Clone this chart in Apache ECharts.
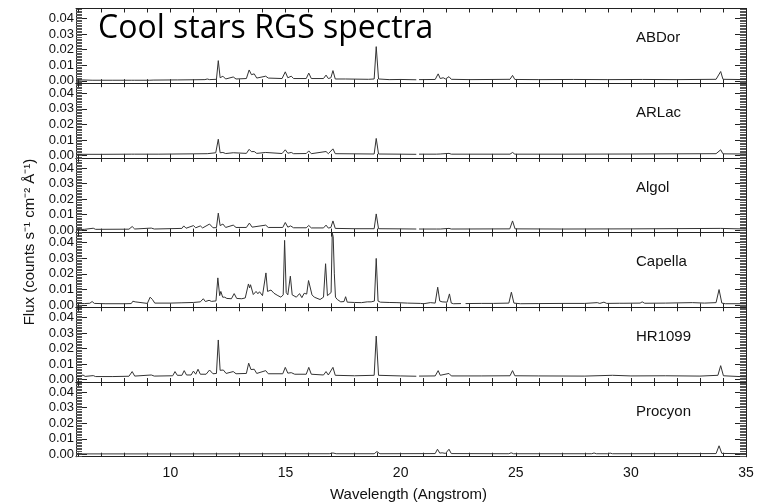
<!DOCTYPE html>
<html>
<head>
<meta charset="utf-8">
<script src="https://cdn.jsdelivr.net/npm/echarts@6/dist/echarts.min.js"></script>
<style>
  html, body { margin: 0; padding: 0; background: #fff; }
  #chart { width: 757px; height: 503px; }
</style>
</head>
<body>
<div id="chart"></div>
<script>
  "use strict";

  var stars = ["ABDor", "ARLac", "Algol", "Capella", "HR1099", "Procyon"];
  var xLabels = [10, 15, 20, 25, 30, 35];
  var xTicks = [6, 7, 8, 9, 10, 11, 12, 13, 14, 15, 16, 17, 18, 19, 20,
    21, 22, 23, 24, 25, 26, 27, 28, 29, 30, 31, 32, 33, 34, 35];
  var yLabels = [0, 0.01, 0.02, 0.03, 0.04];

  // [wavelength (A), flux]; null marks a detector gap
  var abdor = [[5.9,0.0003],[6.2,0.0006],[6.6,0.0004],[7.5,0.0004],[8.3,0.0004],[8.37,0.0009],[8.45,0.0004],
    [9.1,0.0004],[9.17,0.0008],[9.25,0.0005],[10.2,0.0006],[10.25,0.001],[10.32,0.0006],[11.0,0.0007],
    [11.5,0.0008],[11.6,0.0012],[11.7,0.0008],[12.0,0.001],[12.08,0.013],[12.16,0.002],[12.28,0.003],
    [12.4,0.0012],[12.73,0.0025],[12.85,0.0012],[13.3,0.0015],[13.42,0.007],[13.52,0.004],[13.64,0.0045],
    [13.75,0.0018],[14.14,0.003],[14.25,0.0018],[14.85,0.0015],[14.99,0.0058],[15.1,0.002],[15.25,0.003],
    [15.35,0.0015],[15.9,0.0015],[16.01,0.005],[16.12,0.0015],[16.65,0.0015],[16.76,0.0037],[16.86,0.0015],
    [16.97,0.002],[17.06,0.0066],[17.16,0.0012],[17.6,0.0012],[18.6,0.001],[18.85,0.0012],[18.94,0.022],
    [19.04,0.0012],[19.5,0.0008],[20.0,0.0009],[20.68,0.0007],[20.74,null],[20.8,0.0008],[21.5,0.0009],
    [21.63,0.0045],[21.72,0.0015],[21.85,0.002],[21.95,0.0012],[22.1,0.0027],[22.2,0.001],[23.0,0.0008],
    [24.0,0.0009],[24.75,0.001],[24.86,0.0035],[24.96,0.0009],[26,0.0008],[27.5,0.0009],[29,0.0008],
    [30.5,0.0009],[32,0.0008],[33.7,0.001],[33.9,0.006],[34.0,0.001],[35,0.0008]];

  var arlac = [[5.9,0.0008],[7,0.0008],[8.3,0.0009],[8.37,0.0014],[8.45,0.0009],[9.5,0.0009],[10.2,0.001],
    [11,0.0011],[11.6,0.0012],[11.97,0.0018],[12.0,0.0013],[12.08,0.0105],[12.16,0.0018],[12.28,0.002],
    [12.4,0.0013],[12.73,0.0018],[13.3,0.0014],[13.42,0.004],[13.52,0.0025],[13.64,0.0026],[13.75,0.0014],
    [14.14,0.002],[14.85,0.0013],[14.99,0.0037],[15.1,0.0015],[15.25,0.002],[15.35,0.0012],[15.9,0.0013],
    [16.01,0.003],[16.12,0.0012],[16.76,0.0026],[16.86,0.0012],[17.06,0.0043],[17.16,0.0012],[18.85,0.001],
    [18.94,0.011],[19.04,0.001],[20.0,0.0009],[20.68,0.0008],[20.74,null],[20.8,0.0009],[21.55,0.0009],
    [21.63,0.0017],[21.72,0.001],[22.1,0.0014],[22.2,0.0009],[24.75,0.0009],[24.86,0.002],[24.96,0.0009],
    [27,0.0009],[30,0.001],[33.7,0.0012],[33.9,0.0037],[34.0,0.0011],[35,0.001]];

  var algol = [[5.9,0.0005],[6.1,0.0005],[6.18,0.0012],[6.26,0.0006],[6.65,0.0013],[6.75,0.0006],[8.2,0.0007],
    [8.34,0.0024],[8.45,0.0008],[9.17,0.0014],[9.3,0.0008],[10.2,0.0011],[10.5,0.0012],[10.58,0.0028],
    [10.68,0.0013],[11.0,0.003],[11.1,0.0016],[11.3,0.0028],[11.4,0.0015],[11.7,0.004],[11.85,0.0016],
    [12.0,0.0017],[12.08,0.011],[12.16,0.003],[12.28,0.004],[12.4,0.0018],[12.73,0.0033],[12.85,0.0018],
    [13.3,0.0018],[13.43,0.0046],[13.55,0.002],[14.14,0.0033],[14.25,0.0018],[14.88,0.0018],[14.99,0.005],
    [15.1,0.002],[15.22,0.0028],[15.35,0.0016],[15.9,0.0016],[16.01,0.0031],[16.12,0.0015],[16.65,0.0015],
    [16.76,0.0033],[16.86,0.0014],[16.97,0.0018],[17.06,0.006],[17.16,0.0012],[18.0,0.001],[18.85,0.001],
    [18.94,0.0105],[19.04,0.001],[20.0,0.0009],[20.68,0.0008],[20.74,null],[20.8,0.0008],[21.55,0.0008],
    [21.63,0.0015],[21.72,0.0008],[22.1,0.0012],[22.2,0.0008],[24.74,0.0009],[24.86,0.006],[24.97,0.0009],
    [27,0.0008],[30,0.0009],[33.9,0.0012],[35,0.0008]];

  var capella = [[5.9,0.0008],[6.1,0.0009],[6.18,0.0016],[6.26,0.0009],[6.5,0.0011],[6.6,0.0022],[6.7,0.001],
    [7.2,0.0008],[8.0,0.0008],[8.3,0.0009],[8.37,0.0024],[8.42,0.0014],[8.47,0.002],[8.55,0.0009],[9.0,0.001],
    [9.12,0.005],[9.22,0.0035],[9.32,0.0012],[10.0,0.0012],[10.5,0.0014],[11.0,0.0016],[11.3,0.002],
    [11.43,0.004],[11.52,0.0022],[11.68,0.003],[11.78,0.0023],[11.98,0.0026],[12.06,0.0174],[12.14,0.006],
    [12.19,0.0087],[12.27,0.005],[12.36,0.005],[12.45,0.0042],[12.65,0.004],[12.77,0.0073],[12.88,0.0042],
    [13.1,0.004],[13.25,0.0045],[13.39,0.0135],[13.44,0.011],[13.48,0.013],[13.6,0.0067],[13.66,0.0065],
    [13.72,0.0087],[13.8,0.0072],[13.87,0.0085],[14.0,0.006],[14.08,0.0065],[14.15,0.0206],[14.22,0.0087],
    [14.3,0.0085],[14.37,0.0096],[14.5,0.0075],[14.67,0.006],[14.8,0.005],[14.9,0.0065],[14.96,0.0415],
    [15.03,0.008],[15.1,0.0065],[15.21,0.0185],[15.29,0.0065],[15.36,0.006],[15.47,0.005],[15.61,0.0073],
    [15.71,0.0047],[15.81,0.0075],[15.92,0.007],[16.0,0.0157],[16.08,0.0155],[16.15,0.0065],[16.25,0.005],
    [16.5,0.0035],[16.65,0.005],[16.74,0.0265],[16.82,0.006],[16.9,0.005],[16.98,0.008],[17.03,0.0462],
    [17.07,0.044],[17.12,0.02],[17.17,0.005],[17.25,0.0035],[17.4,0.002],[17.54,0.0022],[17.61,0.0053],
    [17.68,0.0018],[18.0,0.0016],[18.3,0.0015],[18.55,0.002],[18.62,0.0027],[18.72,0.002],[18.86,0.0025],
    [18.94,0.0299],[19.02,0.0025],[19.12,0.0018],[19.5,0.0016],[19.84,0.0015],[20.3,0.0012],[20.86,0.001],
    [21.0,0.0008],[21.29,0.0015],[21.5,0.0012],[21.61,0.0114],[21.7,0.0025],[21.8,0.002],[21.87,0.0015],
    [22.02,0.0018],[22.12,0.0071],[22.2,0.0012],[22.3,0.0008],[22.62,0.0009],[22.72,null],[22.82,0.0009],
    [23.5,0.001],[24.04,0.001],[24.7,0.0012],[24.81,0.0082],[24.92,0.0012],[25.2,0.0008],[26,0.0009],
    [27.14,0.001],[28.0,0.001],[28.54,0.0015],[28.65,0.001],[28.83,0.0018],[28.95,0.001],[29.5,0.0011],
    [29.58,0.0018],[29.7,0.0011],[30.4,0.0012],[30.49,0.002],[30.6,0.0011],[31.5,0.0012],[32.67,0.0015],
    [33.2,0.0012],[33.7,0.0015],[33.83,0.0099],[33.95,0.0012],[34.1,0.0008],[35,0.0008]];

  var hr1099 = [[5.9,0.002],[6.1,0.002],[6.2,0.003],[6.3,0.0021],[6.65,0.0026],[6.75,0.002],[7.5,0.002],
    [8.2,0.0022],[8.34,0.0052],[8.45,0.0023],[9.17,0.003],[9.3,0.0023],[10.1,0.0025],[10.2,0.0052],
    [10.3,0.0028],[10.5,0.0028],[10.6,0.0058],[10.7,0.003],[10.9,0.003],[11.0,0.0055],[11.1,0.0035],
    [11.2,0.0067],[11.3,0.0035],[11.55,0.0035],[11.7,0.0062],[11.85,0.0038],[12.0,0.004],[12.08,0.0255],
    [12.16,0.006],[12.3,0.0062],[12.42,0.004],[12.73,0.0052],[12.85,0.0038],[13.3,0.004],[13.4,0.0106],
    [13.5,0.0065],[13.64,0.0067],[13.75,0.004],[14.14,0.0058],[14.25,0.0038],[14.88,0.0038],[14.99,0.0079],
    [15.1,0.0042],[15.25,0.0045],[15.4,0.0035],[15.9,0.0035],[16.01,0.0079],[16.12,0.0035],[16.65,0.003],
    [16.76,0.0052],[16.86,0.003],[17.06,0.0079],[17.16,0.0028],[18.0,0.0025],[18.85,0.0028],[18.94,0.028],
    [19.04,0.0028],[20.0,0.0024],[20.68,0.0022],[20.74,null],[20.8,0.0023],[21.5,0.0024],[21.63,0.0058],
    [21.72,0.0028],[22.1,0.004],[22.2,0.0024],[23.5,0.0024],[24.75,0.0025],[24.86,0.0058],[24.96,0.0025],
    [26,0.0024],[28,0.0023],[29.2,0.0028],[30,0.0024],[31.5,0.0025],[33.0,0.0023],[33.78,0.0028],
    [33.9,0.009],[34.02,0.0025],[35,0.0018]];

  var procyon = [[5.9,0.0003],[10,0.0003],[15,0.0004],[16.9,0.0004],[17.06,0.0009],[17.2,0.0004],
    [18.85,0.0004],[18.97,0.0018],[19.1,0.0004],[21.5,0.0005],[21.6,0.0033],[21.7,0.0008],[21.8,0.001],
    [21.95,0.0006],[22.1,0.0033],[22.2,0.0005],[24.7,0.0004],[24.8,0.001],[24.9,0.0004],[28.3,0.0004],
    [28.4,0.0009],[28.5,0.0004],[29.0,0.0004],[29.1,0.0008],[29.2,0.0004],[33.7,0.0005],[33.83,0.0055],
    [33.95,0.0006],[35,0.0004]];

  var spectra = [abdor, arlac, algol, capella, hr1099, procyon];

  var FONT = "Liberation Sans";
  var INK = "#222222";
  var PANEL_TOP = 8.5;
  var PANEL_H = 74.7;
  var Y_MIN = -0.0015;
  var Y_MAX = 0.0465;

  // dense minor tick positions every 0.001 (tick marks only, not data)
  var yMinor = [];
  for (var k = -1; k <= 46; k++) {
    yMinor.push(k / 1000);
  }

  function xAxisFor(i, position) {
    return {
      gridIndex: i,
      type: "value",
      min: 5.9,
      max: 35,
      position: position,
      axisLine: {show: true, onZero: false, lineStyle: {color: INK, width: 1}},
      axisTick: {show: true, inside: true, length: 4, customValues: xTicks, lineStyle: {color: INK}},
      axisLabel: {
        show: position === "bottom" && i === stars.length - 1,
        customValues: xLabels,
        fontFamily: FONT,
        fontSize: 14,
        color: "#111",
        margin: 9
      },
      splitLine: {show: false}
    };
  }

  function yAxisFor(i, position, major) {
    return {
      gridIndex: i,
      type: "value",
      min: Y_MIN,
      max: Y_MAX,
      position: position,
      axisLine: {show: true, onZero: false, lineStyle: {color: INK, width: 1}},
      axisTick: {
        show: true,
        inside: true,
        length: major ? 11 : 6,
        customValues: major ? yLabels : yMinor,
        lineStyle: {color: major ? INK : "#555", width: 1}
      },
      axisLabel: {
        show: major && position === "left",
        customValues: yLabels,
        formatter: function(v) { return v.toFixed(2); },
        fontFamily: FONT,
        fontSize: 13,
        color: "#111",
        margin: 2
      },
      splitLine: {show: false}
    };
  }

  var grids = [], xAxes = [], yAxes = [], series = [];
  var titles = [{
    text: "Cool stars RGS spectra",
    left: 93,
    top: 8,
    textStyle: {fontFamily: "Open Sans", fontSize: 32, fontWeight: "normal", color: "#000"}
  }];

  stars.forEach(function(name, i) {
    var top = PANEL_TOP + i * PANEL_H;
    grids.push({left: 76, right: 11, top: top, height: PANEL_H});

    xAxes.push(xAxisFor(i, "bottom"));
    xAxes.push(xAxisFor(i, "top"));

    yAxes.push(yAxisFor(i, "left", true));
    yAxes.push(yAxisFor(i, "left", false));
    yAxes.push(yAxisFor(i, "right", true));
    yAxes.push(yAxisFor(i, "right", false));

    series.push({
      name: name,
      type: "line",
      xAxisIndex: i * 2,
      yAxisIndex: i * 4,
      data: spectra[i],
      showSymbol: false,
      symbol: "none",
      connectNulls: false,
      clip: true,
      lineStyle: {color: "#333", width: 1},
      silent: true
    });

    titles.push({
      text: name,
      left: 631,
      top: top + 17,
      textStyle: {fontFamily: FONT, fontSize: 15, fontWeight: "normal", color: "#111"}
    });
  });

  var chart = echarts.init(document.getElementById("chart"), null, {renderer: "canvas"});

  chart.setOption({
    animation: false,
    backgroundColor: "#fff",
    title: titles,
    grid: grids,
    xAxis: xAxes,
    yAxis: yAxes,
    series: series,
    graphic: [
      {
        type: "text",
        left: 411 - 81,
        top: 487,
        style: {text: "Wavelength (Angstrom)", font: "15px 'Liberation Sans'", fill: "#111"}
      },
      {
        type: "text",
        x: 30,
        y: 242,
        rotation: Math.PI / 2,
        style: {
          text: "Flux (counts s\u207B\u00B9 cm\u207B\u00B2 \u00C5\u207B\u00B9)",
          font: "15px 'Liberation Sans'",
          fill: "#111",
          align: "center",
          verticalAlign: "middle"
        }
      }
    ]
  });
</script>
</body>
</html>
